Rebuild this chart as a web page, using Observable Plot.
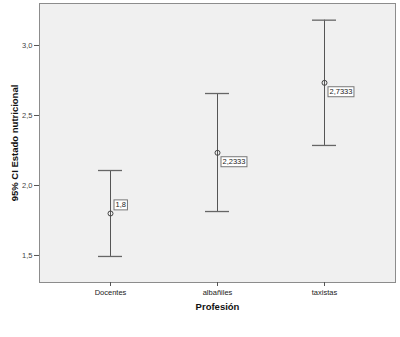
<!DOCTYPE html>
<html>
<head>
<meta charset="utf-8">
<script src="https://cdn.jsdelivr.net/npm/d3@7"></script>
<script src="https://cdn.jsdelivr.net/npm/@observablehq/plot@0.6"></script>
<style>
  body { margin: 0; background: #fff; }
  svg { font-family: Arial, "Liberation Sans", sans-serif; }
</style>
</head>
<body>
<div id="chart"></div>
<script>
const categories = ["Docentes", "albañiles", "taxistas"];
const means = [1.8, 2.2333, 2.7333];
const lower = [1.493, 1.814, 2.286];
const upper = [2.107, 2.657, 3.181];
const yTicks = [1.5, 2.0, 2.5, 3.0];
const meanLabels = ["1,8", "2,2333", "2,7333"];

const data = categories.map((c, i) => ({cat: c, mean: means[i], lo: lower[i], hi: upper[i], label: meanLabels[i]}));
const comma = d => d3.format(".1f")(d).replace(".", ",");

const plot = Plot.plot({
  width: 400,
  height: 337,
  marginLeft: 39,
  marginRight: 5,
  marginTop: 3,
  marginBottom: 55,
  style: {background: "#fff", fontSize: "7.5px", color: "#333"},
  x: {type: "band", domain: categories, paddingInner: 0.776, paddingOuter: 0.5515},
  y: {domain: [1.307, 3.3]},
  marks: [
    Plot.frame({fill: "#f0f0f0", stroke: "#8c8c8c"}),
    Plot.axisY(yTicks, {tickFormat: comma, tickSize: 5, tickPadding: 2, label: null, stroke: "#555", fill: "#444", fontSize: 7.5}),
    Plot.axisX({tickSize: 4, tickPadding: 3, label: null, stroke: "#555", fill: "#222", fontSize: 7.5}),
    Plot.ruleX(data, {x: "cat", y1: "lo", y2: "hi", stroke: "#555", strokeWidth: 1}),
    Plot.tickY(data, {x: "cat", y: "lo", stroke: "#666", strokeWidth: 1.3}),
    Plot.tickY(data, {x: "cat", y: "hi", stroke: "#666", strokeWidth: 1.3}),
    Plot.dot(data, {x: "cat", y: "mean", r: 2.5, stroke: "#444", strokeWidth: 1, fill: "none"}),
    Plot.text(data, {x: "cat", y: "mean", text: "label", className: "meanlab", textAnchor: "start",
      dx: 5, fill: "#222", fontSize: 7.5}),
    Plot.text(["95% CI Estado nutricional"], {frameAnchor: "left", textAnchor: "middle", lineAnchor: "middle", rotate: -90, dx: -25, fontWeight: "bold", fontSize: 9.5, fill: "#111"}),
    Plot.text(["Profesión"], {frameAnchor: "bottom", lineAnchor: "middle", dy: 24, fontWeight: "bold", fontSize: 9.5, fill: "#111"})
  ]
});
document.getElementById("chart").appendChild(plot);

// adjust mean label positions and add boxes
d3.select(plot).selectAll("g.meanlab text").each(function(d, i) {
  const t = d3.select(this);
  const off = i === 0 ? -8.5 : 9;
  const cur = t.attr("transform") || "";
  t.attr("transform", cur + ` translate(0,${off})`);
});
d3.select(plot).selectAll("g.meanlab text").each(function() {
  const bb = this.getBBox();
  const ctm = this.getAttribute("transform") || "";
  const r = document.createElementNS("http://www.w3.org/2000/svg", "rect");
  r.setAttribute("x", bb.x - 1.5);
  r.setAttribute("y", bb.y - 0.5);
  r.setAttribute("width", bb.width + 3);
  r.setAttribute("height", bb.height + 1);
  r.setAttribute("fill", "#fff");
  r.setAttribute("stroke", "#777");
  r.setAttribute("stroke-width", "1");
  r.setAttribute("transform", ctm);
  this.parentNode.insertBefore(r, this);
});
</script>
</body>
</html>
